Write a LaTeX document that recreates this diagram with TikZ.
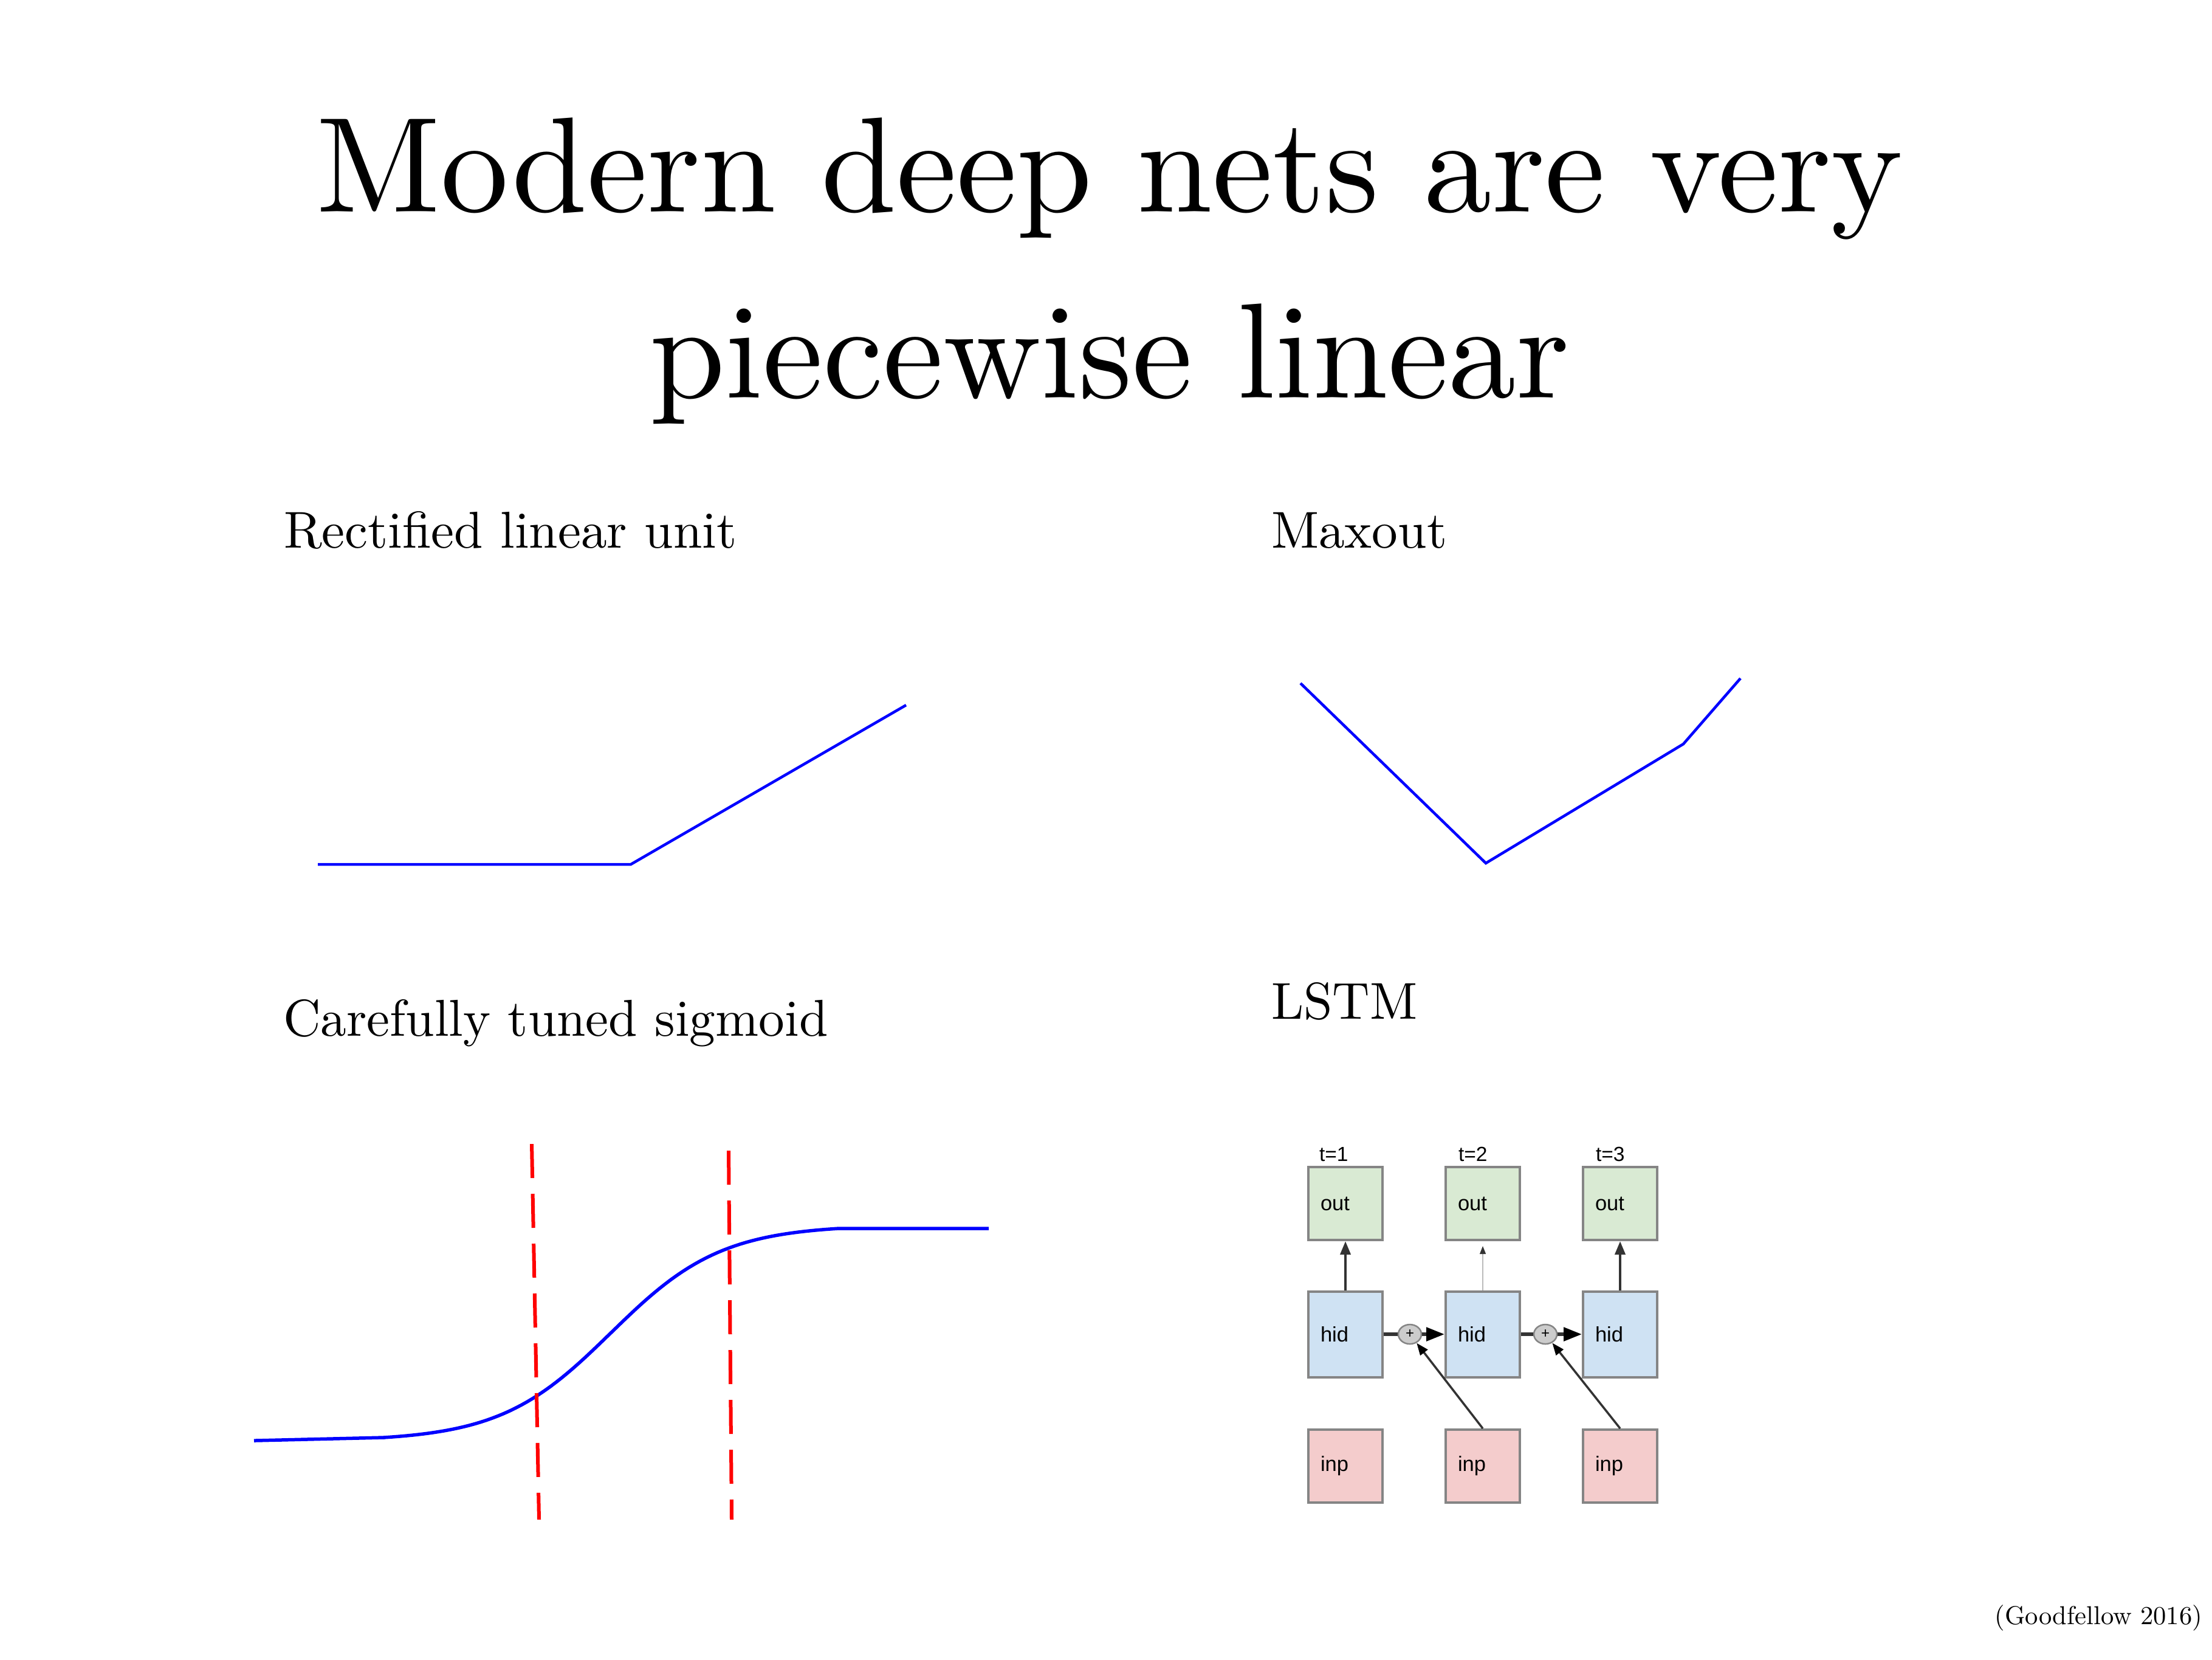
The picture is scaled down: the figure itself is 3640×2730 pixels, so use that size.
\documentclass[tikz,border=0pt]{standalone}
\usepackage{fontspec}
\setmainfont{lmroman10-regular}[Extension=.otf]
\newfontfamily\diafont{Liberation Sans}
\usetikzlibrary{arrows.meta,shapes.geometric}
\definecolor{outgreen}{HTML}{D9EAD3}
\definecolor{hidblue}{HTML}{CFE2F3}
\definecolor{inpred}{HTML}{F4CCCC}
\definecolor{boxgray}{HTML}{858585}
\definecolor{arrowdark}{HTML}{333333}
\definecolor{plusgray}{HTML}{CCCCCC}
\definecolor{thingray}{HTML}{BBBBBB}
\begin{document}
\begin{tikzpicture}[x=0.1pt,y=-0.1pt,
  titletext/.style={anchor=base, inner sep=0pt, font=\fontsize{22.3}{26}\selectfont},
  lbl/.style={anchor=base west, inner sep=0pt, font=\fontsize{8.53}{10}\selectfont},
  curve/.style={blue, line width=0.45pt},
  cut/.style={red, line width=0.6pt, dash pattern=on 5.6pt off 2.6pt},
  cell/.style={draw=boxgray, line width=0.4pt, minimum width=12.2pt, text width=8.2pt,
     inner xsep=2pt, inner ysep=0pt, align=left, font=\diafont\fontsize{3.45}{4}\selectfont},
  outcell/.style={cell, fill=outgreen, minimum height=12pt},
  hidcell/.style={cell, fill=hidblue, minimum height=14.1pt},
  inpcell/.style={cell, fill=inpred, minimum height=12pt},
  tlabel/.style={anchor=base west, inner sep=0pt, font=\diafont\fontsize{3.35}{4}\selectfont},
  plusnode/.style={ellipse, draw=boxgray, fill=plusgray, line width=0.25pt, minimum width=3.8pt,
     minimum height=3.2pt, inner sep=0pt, font=\diafont\fontsize{2.4}{3}\selectfont},
  thickarrow/.style={draw=arrowdark, line width=0.4pt, -{Triangle[length=2.2pt,width=1.7pt,color=arrowdark]}},
  thinarrow/.style={draw=thingray, line width=0.12pt, shorten >=0.8pt, -{Triangle[length=1.3pt,width=1pt,color=arrowdark]}},
  joinline/.style={draw=arrowdark, line width=0.55pt},
  bigarrow/.style={draw=arrowdark, line width=0.55pt, -{Triangle[length=3pt,width=2.2pt,color=black]}},
  inarrow/.style={draw=arrowdark, line width=0.35pt, -{Triangle[length=2pt,width=1.5pt,color=black]}}
]
\useasboundingbox (0,0) rectangle (3640,2730);

% title
\node[titletext] (title1) at (1826,348) {Modern deep nets are very};
\node[titletext] (title2) at (1826,654) {piecewise linear};

% panel labels
\node[lbl] (relulbl) at (465,901) {Rectified linear unit};
\node[lbl] (maxlbl) at (2090,901) {Maxout};
\node[lbl] (siglbl) at (464,1704) {Carefully tuned sigmoid};
\node[lbl] (lstmlbl) at (2090,1676) {LSTM};

% ReLU
\draw[curve] (523,1422) -- (1038,1422) -- (1491,1160);

% Maxout
\draw[curve] (2140,1124) -- (2445,1420) -- (2770,1224) -- (2864,1116);

% Sigmoid
\draw[curve, line width=0.55pt] (418,2370) -- (630,2365)
  -- plot[domain=630:1380, samples=80] (\x, {2365 + (2021-2365)*(tanh(2.05*(2*(\x-630)/750-1))/tanh(2.05)+1)/2})
  -- (1627,2021);
\draw[cut] (875,1882) -- (887,2500);
\draw[cut] (1199,1893) -- (1204,2500);

% LSTM diagram
\node[tlabel] (t1) at (2169,1910) {t=1};
\node[tlabel] (t2) at (2398,1910) {t=2};
\node[tlabel] (t3) at (2624,1910) {t=3};

\node[outcell] (o1) at (2214,1980) {out};
\node[outcell] (o2) at (2440,1980) {out};
\node[outcell] (o3) at (2666,1980) {out};
\node[hidcell] (h1) at (2214,2195) {hid};
\node[hidcell] (h2) at (2440,2195) {hid};
\node[hidcell] (h3) at (2666,2195) {hid};
\node[inpcell] (i1) at (2214,2412) {inp};
\node[inpcell] (i2) at (2440,2412) {inp};
\node[inpcell] (i3) at (2666,2412) {inp};

\node[plusnode] (p1) at (2320,2195) {+};
\node[plusnode] (p2) at (2543,2195) {+};

\draw[thickarrow] (h1) -- (o1);
\draw[thinarrow] (h2) -- (o2);
\draw[thickarrow] (h3) -- (o3);
\draw[joinline] (h1) -- (p1);
\draw[bigarrow] (p1) -- (h2);
\draw[joinline] (h2) -- (p2);
\draw[bigarrow] (p2) -- (h3);
\draw[inarrow] (i2.north) -- (p1);
\draw[inarrow] (i3.north) -- (p2);

% citation
\node[anchor=base east, inner sep=0pt, font=\fontsize{4.26}{5}\selectfont] (cite) at (3626,2672) {(Goodfellow 2016)};
\end{tikzpicture}
\end{document}
